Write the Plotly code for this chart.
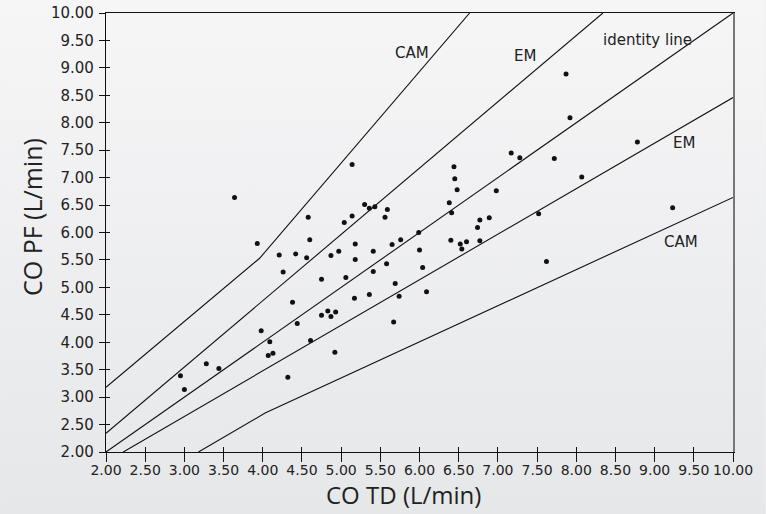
import base64
import plotly.graph_objects as go

# ---- data ----
co_td = [2.95, 3.00, 3.28, 3.44, 3.64, 3.93, 3.98, 4.07, 4.13, 4.09,
         4.21, 4.26, 4.32, 4.38, 4.42, 4.44, 4.56, 4.58, 4.60, 4.61,
         4.75, 4.75, 4.83, 4.87, 4.93, 4.87, 4.97, 4.92, 5.04, 5.06,
         5.14, 5.14, 5.18, 5.18, 5.17, 5.30, 5.36, 5.43, 5.41, 5.41,
         5.36, 5.59, 5.56, 5.58, 5.65, 5.67, 5.69, 5.74, 5.76, 5.99,
         6.00, 6.04, 6.09, 6.38, 6.41, 6.40, 6.44, 6.45, 6.48, 6.52,
         6.54, 6.60, 6.74, 6.77, 6.89, 6.77, 6.98, 7.17, 7.28, 7.52,
         7.62, 7.72, 7.87, 7.92, 8.07, 8.78, 9.23]
co_pf = [3.39, 3.14, 3.61, 3.52, 6.64, 5.80, 4.21, 3.76, 3.80, 4.01,
         5.59, 5.28, 3.36, 4.73, 5.61, 4.34, 5.54, 6.28, 5.87, 4.03,
         5.15, 4.49, 4.57, 4.47, 4.55, 5.58, 5.66, 3.82, 6.18, 5.18,
         6.30, 7.24, 5.79, 5.51, 4.80, 6.51, 6.44, 6.47, 5.66, 5.29,
         4.87, 6.42, 6.28, 5.43, 5.78, 4.37, 5.07, 4.84, 5.87, 6.00,
         5.68, 5.36, 4.92, 6.54, 6.36, 5.86, 7.20, 6.98, 6.78, 5.79,
         5.70, 5.83, 6.09, 6.23, 6.27, 5.85, 6.76, 7.45, 7.36, 6.34,
         5.47, 7.35, 8.89, 8.09, 7.01, 7.65, 6.45]

identity_x = [2.0, 10.0]
identity_y = [2.0, 10.0]
em_upper_x = [2.00, 8.34]
em_upper_y = [2.34, 10.00]
em_lower_x = [2.22, 10.00]
em_lower_y = [2.00, 8.46]
cam_upper_x = [2.00, 3.96, 6.64]
cam_upper_y = [3.18, 5.53, 10.00]
cam_lower_x = [3.18, 4.03, 10.00]
cam_lower_y = [2.00, 2.71, 6.64]

line_labels = ["CAM", "EM", "identity line", "EM", "CAM"]
line_label_x = [5.90, 7.35, 8.91, 9.37, 9.34]
line_label_y = [9.28, 9.22, 9.51, 7.63, 5.83]

tick_vals = [2.0, 2.5, 3.0, 3.5, 4.0, 4.5, 5.0, 5.5, 6.0, 6.5,
             7.0, 7.5, 8.0, 8.5, 9.0, 9.5, 10.0]
tick_text = ["2.00", "2.50", "3.00", "3.50", "4.00", "4.50", "5.00", "5.50",
             "6.00", "6.50", "7.00", "7.50", "8.00", "8.50", "9.00", "9.50", "10.00"]

x_title = "CO TD (L/min)"
y_title = "CO PF (L/min)"

# ---- figure ----
fig = go.Figure()
line_style = dict(color="#111111", width=1.1)
for xs, ys in [(identity_x, identity_y), (em_upper_x, em_upper_y),
               (em_lower_x, em_lower_y), (cam_upper_x, cam_upper_y),
               (cam_lower_x, cam_lower_y)]:
    fig.add_trace(go.Scatter(x=xs, y=ys, mode="lines", line=line_style,
                             showlegend=False, hoverinfo="skip"))

fig.add_trace(go.Scatter(x=co_td, y=co_pf, mode="markers",
                         marker=dict(color="#111111", size=5),
                         showlegend=False))

# empty helper traces so the overlay axes (crossing ticks / borders) render
for xa, ya in [("x2", "y"), ("x3", "y"), ("x", "y2"), ("x", "y3")]:
    fig.add_trace(go.Scatter(x=[None], y=[None], xaxis=xa, yaxis=ya,
                             showlegend=False, hoverinfo="skip"))

x_tick_font = dict(family="DejaVu Sans", size=14, color="#222222")
y_tick_font = dict(family="DejaVu Sans", size=15, color="#222222")
base_axis = dict(range=[2, 10], showgrid=False, zeroline=False,
                 tickvals=tick_vals, ticktext=tick_text, automargin=False)

for i, (t, x, y) in enumerate(zip(line_labels, line_label_x, line_label_y)):
    fig.add_annotation(x=x, y=y, xref="x", yref="y", text=t, showarrow=False,
                       font=dict(family="DejaVu Sans", size=15, color="#222222"))

fig.add_annotation(x=(403.5 - 106) / 627.5, y=(451.7 - 513) / 438.4,
                   xref="paper", yref="paper", text=x_title, showarrow=False,
                   xanchor="center", yanchor="bottom",
                   font=dict(family="Open Sans", size=24, color="#222222"))
fig.add_annotation(x=(32 - 106) / 627.5, y=(451.7 - 217) / 438.4,
                   xref="paper", yref="paper", text=y_title, showarrow=False,
                   textangle=-90, xanchor="center", yanchor="middle",
                   font=dict(family="Open Sans", size=25, color="#222222"))

svg = ("<svg xmlns='http://www.w3.org/2000/svg' width='766' height='514' "
       "preserveAspectRatio='none'><defs><linearGradient id='g' x1='0' y1='0' "
       "x2='0' y2='1'><stop offset='0' stop-color='#f6f6f7'/>"
       "<stop offset='1' stop-color='#e6e7e9'/></linearGradient></defs>"
       "<rect width='766' height='514' fill='url(#g)'/></svg>")
src = "data:image/svg+xml;base64," + base64.b64encode(svg.encode()).decode()

pw, ph = 627.5, 438.4
fig.update_layout(
    width=766, height=514,
    margin=dict(l=106, r=32.5, t=13.3, b=62.3),
    paper_bgcolor="#eeeff0",
    plot_bgcolor="rgba(0,0,0,0)",
    images=[dict(source=src, xref="paper", yref="paper",
                 x=-106 / pw, y=1 + 13.3 / ph, sizex=766 / pw, sizey=514 / ph,
                 xanchor="left", yanchor="top", sizing="stretch", layer="below")],
    xaxis=dict(**base_axis, showline=True, linecolor="#111111", linewidth=1.2,
               ticks="outside", ticklen=9, tickwidth=1.2, tickcolor="#111111",
               tickfont=x_tick_font, tickangle=0, ticklabelstandoff=-4),
    xaxis2=dict(**base_axis, overlaying="x", anchor="y", side="bottom",
                ticks="inside", ticklen=5, tickwidth=1.2, tickcolor="#111111",
                showticklabels=False, showline=False),
    xaxis3=dict(range=[2, 10], overlaying="x", anchor="y", side="top",
                showline=True, linecolor="#111111", linewidth=1.2, automargin=False,
                showticklabels=False, ticks="", showgrid=False, zeroline=False),
    yaxis=dict(**base_axis, showline=True, linecolor="#111111", linewidth=1.2,
               ticks="outside", ticklen=6, tickwidth=1.2, tickcolor="#111111",
               tickfont=y_tick_font, ticklabelstandoff=2),
    yaxis2=dict(**base_axis, overlaying="y", anchor="x", side="left",
                ticks="inside", ticklen=4, tickwidth=1.2, tickcolor="#111111",
                showticklabels=False, showline=False),
    yaxis3=dict(range=[2, 10], overlaying="y", anchor="x", side="right",
                showline=True, linecolor="#777777", linewidth=2.2, automargin=False,
                showticklabels=False, ticks="", showgrid=False, zeroline=False),
)

fig.write_html("out.html",
               config={"displayModeBar": False},
               post_script="document.body.style.margin='0';"
                           "document.body.style.overflow='hidden';")
